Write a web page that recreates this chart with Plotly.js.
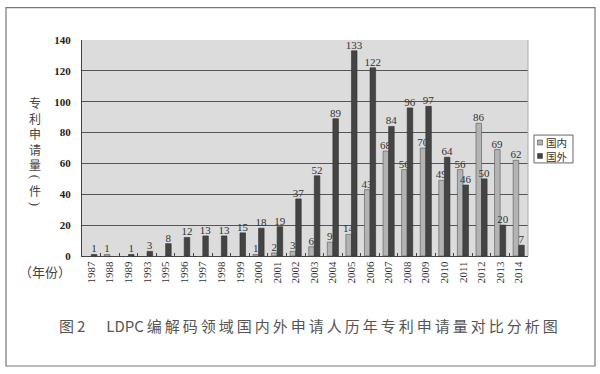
<!DOCTYPE html>
<html><head><meta charset="utf-8">
<script src="https://cdn.plot.ly/plotly-3.0.1.min.js"></script>
<style>html,body{margin:0;padding:0;background:#fff}#c{width:600px;height:374px}</style>
</head><body><div id="c"></div>
<script>
var years = ['1987','1988','1989','1993','1995','1996','1997','1998','1999','2000','2001','2002','2003','2004','2005','2006','2007','2008','2009','2010','2011','2012','2013','2014'];
var domestic = [null,1,null,null,null,null,null,null,null,1,2,3,6,9,14,43,68,56,70,49,56,86,69,62];
var foreign  = [1,null,1,3,8,12,13,13,15,18,19,37,52,89,133,122,84,96,97,64,46,50,20,7];
var yTicks = [0,20,40,60,80,100,120,140];
var seriesNames = ['国内','国外'];
var seriesColors = ['#b3b3b3','#444444'];

var serif = "'Liberation Serif', 'Times New Roman', 'DejaVu Serif', serif";
var cjk = "'Noto Sans CJK SC', 'Liberation Serif', serif";
function lbl(a){return a.map(function(v){return v==null?'':String(v);});}

var tf = {family:serif,size:11,color:'#333'};
var traces = [
 {type:'bar', name:seriesNames[0], x:years, y:domestic, text:lbl(domestic), textposition:'outside', cliponaxis:false,
  constraintext:'none', textfont:tf, outsidetextfont:tf, insidetextfont:tf,
  marker:{color:seriesColors[0], line:{color:'#555',width:0.6}}},
 {type:'bar', name:seriesNames[1], x:years, y:foreign, text:lbl(foreign), textposition:'outside', cliponaxis:false,
  constraintext:'none', textfont:tf, outsidetextfont:tf, insidetextfont:tf,
  marker:{color:seriesColors[1], line:{color:'#333',width:0.6}}}
];

var L=82, R=528, T=39.5, B=256.5, W=R-L, H=B-T;
function px(x){return (x-L)/W;}
function py(y){return (B-y)/H;}

var anns = [];
anns.push({xref:'paper', yref:'paper', x:px(35), y:py(93), text:'专<br>利<br>申<br>请<br>量', showarrow:false, borderpad:0,
   font:{family:cjk,size:12,color:'#444'}, xanchor:'center', yanchor:'top', align:'center'});
anns.push({xref:'paper', yref:'paper', x:px(35), y:py(177), text:'(', textangle:90, showarrow:false, borderpad:0,
   font:{family:serif,size:13,color:'#444'}, xanchor:'center', yanchor:'middle'});
anns.push({xref:'paper', yref:'paper', x:px(35), y:py(190.5), text:'件', showarrow:false, borderpad:0,
   font:{family:cjk,size:12,color:'#444'}, xanchor:'center', yanchor:'middle'});
anns.push({xref:'paper', yref:'paper', x:px(35), y:py(204), text:')', textangle:90, showarrow:false, borderpad:0,
   font:{family:serif,size:13,color:'#444'}, xanchor:'center', yanchor:'middle'});
anns.push({xref:'paper', yref:'paper', x:px(45), y:py(272), text:'（年份）', showarrow:false,
   font:{family:cjk,size:13,color:'#444'}, xanchor:'center', yanchor:'middle'});
var capParts = ['图','2','　','LDPC','编','解','码','领','域','国','内','外','申','请','人','历','年','专','利','申','请','量','对','比','分','析','图'];
anns.push({xref:'paper', yref:'paper', x:px(308), y:py(326), text:capParts.join('\u2009'), showarrow:false,
   font:{family:cjk,size:15,color:'#555'}, xanchor:'center', yanchor:'middle'});
// custom legend
var shapes = [
 {type:'rect', xref:'paper', yref:'paper', x0:px(6), x1:px(595), y0:py(367), y1:py(7), line:{color:'#777',width:1.2}, fillcolor:'rgba(0,0,0,0)', layer:'below'},
 {type:'line', xref:'paper', yref:'paper', x0:1, x1:1, y0:0, y1:1, line:{color:'#aaa',width:1}},
 {type:'rect', xref:'paper', yref:'paper', x0:px(534), x1:px(573), y0:py(163), y1:py(135), line:{color:'#666',width:1}, fillcolor:'#fff'}
];
seriesNames.forEach(function(n,i){
 var yc = 142.5 + i*13.5;
 shapes.push({type:'rect', xref:'paper', yref:'paper', x0:px(537.5), x1:px(542.5), y0:py(yc+2.5), y1:py(yc-2.5),
   line:{color:'#444',width:0.6}, fillcolor:seriesColors[i]});
});
anns.push({xref:'paper', yref:'paper', x:px(545), y:py(149.25), text:seriesNames.join('<br>'), showarrow:false, borderpad:0,
   font:{family:cjk,size:10.5,color:'#333'}, xanchor:'left', yanchor:'middle', align:'left'});

var layout = {
 width:600, height:374,
 margin:{l:L, r:600-R, t:T, b:374-B},
 paper_bgcolor:'#fff', plot_bgcolor:'#dcdcdc',
 barmode:'group', bargap:0.4, bargroupgap:0,
 font:{family:serif, color:'#333'},
 showlegend:false,
 xaxis:{type:'category', tickangle:-90, tickfont:{family:serif,size:11,color:'#333'},
  showline:true, linecolor:'#444', linewidth:1, ticks:'inside', tickson:'boundaries', ticklen:3, tickcolor:'#444',
  showgrid:false},
 yaxis:{range:[0,140], tickvals:yTicks, ticktext:yTicks.map(String), tickfont:{family:serif,size:11,color:'#222',weight:'bold'},
  showgrid:true, gridcolor:'#555', gridwidth:1, zeroline:true, zerolinecolor:'#444',
  showline:true, linecolor:'#444', linewidth:1, ticks:'', ticklabelstandoff:8},
 shapes:shapes,
 annotations:anns
};
Plotly.newPlot('c', traces, layout, {displayModeBar:false, staticPlot:true});
</script></body></html>
